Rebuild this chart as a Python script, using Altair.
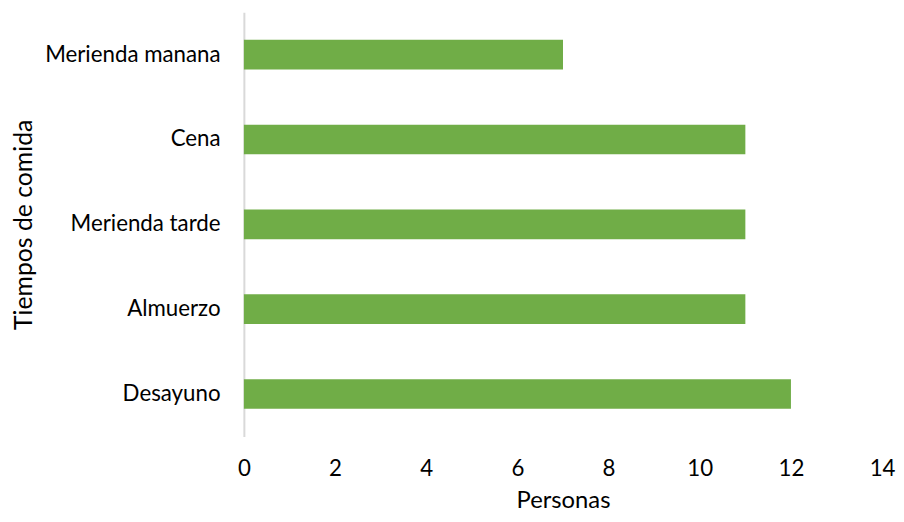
import altair as alt
import pandas as pd

categories = ["Merienda manana", "Cena", "Merienda tarde", "Almuerzo", "Desayuno"]
values = [7, 11, 11, 11, 12]

df = pd.DataFrame({"comida": categories, "personas": values})

chart = alt.Chart(df).mark_bar(color="#70AD47").encode(
    x=alt.X("personas:Q", title="Personas",
            scale=alt.Scale(domain=[0, 14], nice=False),
            axis=alt.Axis(values=[0, 2, 4, 6, 8, 10, 12, 14], grid=False, domain=False,
                          ticks=False, labelPadding=21, labelFontSize=22.5, labelFlush=False,
                          titleFontSize=24, titleFontWeight="normal", titlePadding=9,
                          labelColor="#000000", titleColor="#000000", labelFont="Lato",
                          titleFont="Lato")),
    y=alt.Y("comida:N", title="Tiempos de comida", sort=categories,
            scale=alt.Scale(paddingInner=0.65, paddingOuter=0.325),
            axis=alt.Axis(grid=False, ticks=False, domainColor="#d9d9d9", domainWidth=2,
                          labelPadding=24, labelFontSize=22.5, titleFontSize=25,
                          titleFontWeight="normal", titlePadding=9,
                          labelColor="#000000", titleColor="#000000", labelFont="Lato",
                          titleFont="Lato")),
).properties(
    width=644, height=428,
    autosize=alt.AutoSizeParams(type="none"),
    padding={"top": 2, "left": 238, "right": 14, "bottom": 75},
).configure_view(stroke=None)

chart.save("out.html", embed_options={"renderer": "svg", "actions": False})
